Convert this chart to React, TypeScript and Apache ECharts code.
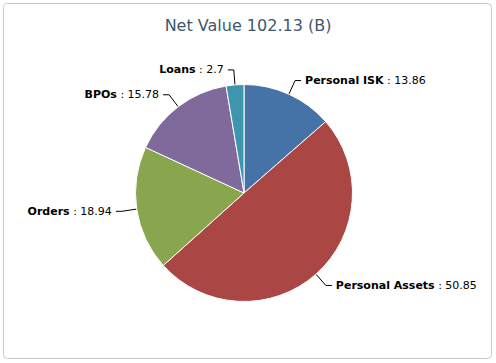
import React, { useEffect, useRef } from "react";
import * as echarts from "echarts";

const titleText = "Net Value 102.13 (B)";
const categories = ["Personal ISK", "Personal Assets", "Orders", "BPOs", "Loans"];
const values = [13.86, 50.85, 18.94, 15.78, 2.7];
const colors = ["#4572A7", "#AA4643", "#89A54E", "#80699B", "#3D96AE"];

export default function App() {
  const ref = useRef<HTMLDivElement>(null);
  useEffect(() => {
    if (!ref.current) return;
    const chart = echarts.init(ref.current, undefined, { renderer: "svg" });
    chart.setOption({
      animation: false,
      backgroundColor: "#fff",
      color: colors,
      title: {
        text: titleText,
        left: "center",
        top: 12,
        textStyle: {
          fontFamily: "DejaVu Sans",
          fontSize: 16,
          fontWeight: "normal",
          color: "#3E576F",
        },
      },
      graphic: [
        {
          type: "rect",
          shape: { x: 3.5, y: 3.5, width: 488, height: 355, r: 4 },
          style: { fill: "none", stroke: "#c8c8c8", lineWidth: 1 },
          silent: true,
        },
      ],
      series: [
        {
          type: "pie",
          center: [244, 193],
          radius: 108.5,
          startAngle: 90,
          clockwise: true,
          avoidLabelOverlap: false,
          itemStyle: { borderColor: "#fff", borderWidth: 1 },
          emphasis: { disabled: true },
          label: {
            show: true,
            formatter: "{b|{b}} : {c}",
            fontFamily: "DejaVu Sans",
            fontSize: 11,
            color: "#000",
            distanceToLabelLine: 4,
            rich: {
              b: {
                fontFamily: "DejaVu Sans",
                fontSize: 11,
                fontWeight: "bold",
                color: "#000",
              },
            },
          },
          labelLine: {
            show: true,
            length: 15,
            length2: 6,
            lineStyle: { color: "#000", width: 1 },
          },
          data: categories.map((name, i) => ({ name, value: values[i] })),
        },
      ],
    });
    return () => chart.dispose();
  }, []);
  return (
    <div
      ref={ref}
      style={{ position: "fixed", left: 0, top: 0, width: 496, height: 363 }}
    />
  );
}
